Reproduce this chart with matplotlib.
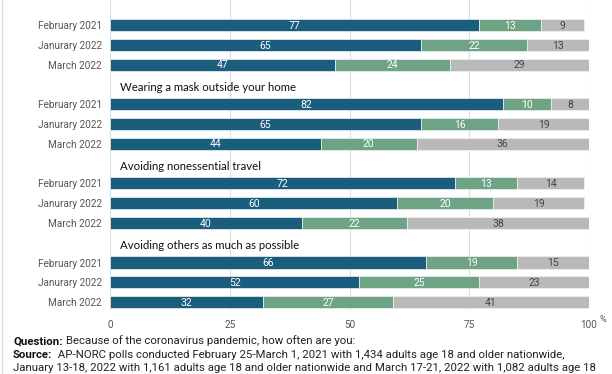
import matplotlib
matplotlib.use("Agg")
import matplotlib.pyplot as plt
from matplotlib.lines import Line2D

periods = ["February 2021", "Janurary 2022", "March 2022"]
group_titles = ["", "Wearing a mask outside your home", "Avoiding nonessential travel",
                "Avoiding others as much as possible"]
always = [[77, 65, 47], [82, 65, 44], [72, 60, 40], [66, 52, 32]]
sometimes = [[13, 22, 24], [10, 16, 20], [13, 20, 22], [19, 25, 27]]
never = [[9, 13, 29], [8, 19, 36], [14, 19, 38], [15, 23, 41]]
xticks = [0, 25, 50, 75, 100]

c_blue = "#1b5d7c"
c_green = "#6fa386"
c_gray = "#b9b9b9"
tick_col = "#555555"

fig = plt.figure(figsize=(6.12, 3.74), dpi=100)
ax = fig.add_axes([110 / 612, (374 - 310) / 374, (589 - 110) / 612, 310 / 374])

bh = 0.61
ypos, ylabels = [], []
for g in range(4):
    for j in range(3):
        y = g * 4 + j
        ypos.append(y)
        ylabels.append(periods[j])
        a, s, n = always[g][j], sometimes[g][j], never[g][j]
        segs = [(0, a, c_blue, "white"), (a, s, c_green, "white"), (a + s, n, c_gray, "#444444")]
        for left, w, col, tc in segs:
            ax.barh(y, w, left=left, height=bh, color=col, edgecolor="#f2f2f2", linewidth=0.5, zorder=3)
            ax.text(left + w / 2, y + 0.03, str(w), ha="center", va="center", color=tc,
                    fontsize=7.5, family="Roboto", zorder=4)
    if group_titles[g]:
        ax.text(2, g * 4 - 0.85, group_titles[g], ha="left", va="center", fontsize=8.2,
                family="Lato", color="#111111", zorder=4)

ax.set_xlim(0, 100)
ax.set_ylim(14.4, -1.27)
ax.set_yticks(ypos)
ax.set_yticklabels(ylabels, family="Roboto", fontsize=7.2, color=tick_col)
ax.set_xticks(xticks)
ax.set_xticklabels([str(t) for t in xticks], family="Roboto", fontsize=7.2, color=tick_col)
ax.tick_params(axis="both", length=0, pad=6)
ax.tick_params(axis="x", pad=7)
for sp in ax.spines.values():
    sp.set_visible(False)
ax.grid(axis="x", color="#dcdcdc", linewidth=0.8, zorder=0)
ax.set_axisbelow(True)

fig.text(599 / 612, 1 - 320 / 374, "%", fontsize=6.5, family="Roboto", color=tick_col,
         ha="left", va="center")

fig.add_artist(Line2D([1.5 / 612, 1.5 / 612], [0, 1], color="#dddddd", linewidth=1))

renderer = fig.canvas.get_renderer()
x0 = 13 / 612
fs = 8.2
lines = [
    ("Question:", " Because of the coronavirus pandemic, how often are you:", 344.3),
    ("Source:", "  AP-NORC polls conducted February 25-March 1, 2021 with 1,434 adults age 18 and older nationwide,", 357.7),
    ("", "January 13-18, 2022 with 1,161 adults age 18 and older nationwide and March 17-21, 2022 with 1,082 adults age 18", 371.0),
]
for bold, rest, ypx in lines:
    yy = 1 - ypx / 374
    xx = x0
    if bold:
        t = fig.text(xx, yy, bold, fontsize=fs, family="Roboto", weight="bold", color="#111111",
                     ha="left", va="baseline")
        bb = t.get_window_extent(renderer=renderer)
        xx = bb.x1 / fig.bbox.width
    fig.text(xx, yy, rest, fontsize=fs, family="Roboto", color="#222222", ha="left", va="baseline")

fig.savefig("out.png", dpi=100)
